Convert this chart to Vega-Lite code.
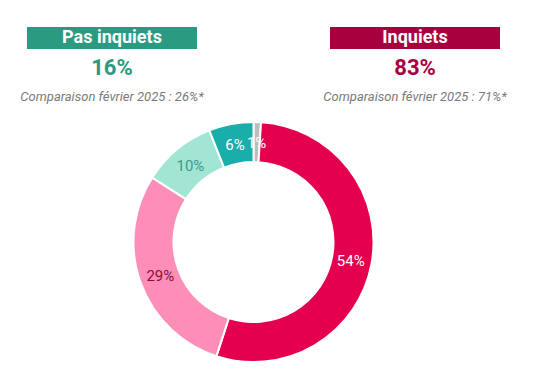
{
  "$schema": "https://vega.github.io/schema/vega-lite/v6.json",
  "padding": 0,
  "spacing": 0,
  "background": "white",
  "config": {"view": {"stroke": null}, "font": "Roboto"},
  "vconcat": [
    {
      "width": 554,
      "height": 116,
      "data": {"values": [
        {"groupe": "Pas inquiets", "pct": "16%", "comp": "Comparaison février 2025 : 26%*"},
        {"groupe": "Inquiets", "pct": "83%", "comp": "Comparaison février 2025 : 71%*"}
      ]},
      "encoding": {
        "x": {"field": "groupe", "type": "nominal", "axis": null,
              "scale": {"type": "band", "domain": ["Pas inquiets", "Inquiets"], "range": [27, 500], "paddingInner": 0.439, "paddingOuter": 0}}
      },
      "layer": [
        {
          "mark": {"type": "bar"},
          "encoding": {
            "y": {"datum": "titre", "type": "nominal", "axis": null,
                  "scale": {"type": "band", "domain": ["titre", "pct", "comp"], "range": [27, 108], "paddingInner": 0.254, "paddingOuter": 0}},
            "color": {"field": "groupe", "type": "nominal", "legend": null,
                      "scale": {"domain": ["Pas inquiets", "Inquiets"], "range": ["#2A9A80", "#A8003F"]}}
          }
        },
        {
          "mark": {"type": "text", "fontSize": 18, "fontWeight": "bold", "color": "white", "baseline": "middle"},
          "encoding": {
            "y": {"datum": "titre", "type": "nominal"},
            "text": {"field": "groupe"}
          }
        },
        {
          "mark": {"type": "text", "fontSize": 22, "fontWeight": "bold", "baseline": "middle"},
          "encoding": {
            "y": {"datum": "pct", "type": "nominal"},
            "text": {"field": "pct"},
            "color": {"field": "groupe", "type": "nominal", "legend": null}
          }
        },
        {
          "mark": {"type": "text", "fontSize": 13, "fontStyle": "italic", "color": "#7a7a7a", "baseline": "middle"},
          "encoding": {
            "y": {"datum": "comp", "type": "nominal"},
            "text": {"field": "comp"}
          }
        }
      ]
    },
    {
      "width": 507,
      "height": 252,
      "data": {"values": [
        {"categorie": "NSP", "ordre": 1, "valeur": 1, "label": "1%"},
        {"categorie": "Très inquiets", "ordre": 2, "valeur": 54, "label": "54%"},
        {"categorie": "Assez inquiets", "ordre": 3, "valeur": 29, "label": "29%"},
        {"categorie": "Peu inquiets", "ordre": 4, "valeur": 10, "label": "10%"},
        {"categorie": "Pas du tout inquiets", "ordre": 5, "valeur": 6, "label": "6%"}
      ]},
      "encoding": {
        "theta": {"field": "valeur", "type": "quantitative", "stack": true},
        "order": {"field": "ordre", "type": "quantitative"}
      },
      "layer": [
        {
          "mark": {"type": "arc", "outerRadius": 120, "innerRadius": 80, "stroke": "white", "strokeWidth": 2},
          "encoding": {
            "color": {"field": "categorie", "type": "nominal", "legend": null,
                      "scale": {"domain": ["NSP", "Très inquiets", "Assez inquiets", "Peu inquiets", "Pas du tout inquiets"],
                                "range": ["#BDBDBD", "#E4004F", "#FD8EB8", "#A2E5D5", "#1AAEAA"]}}
          }
        },
        {
          "mark": {"type": "text", "radius": 99, "fontSize": 15, "baseline": "middle"},
          "encoding": {
            "text": {"field": "label"},
            "color": {"field": "categorie", "type": "nominal", "legend": null,
                      "scale": {"domain": ["NSP", "Très inquiets", "Assez inquiets", "Peu inquiets", "Pas du tout inquiets"],
                                "range": ["#FFFFFF", "#FFFFFF", "#8C0D3E", "#3E9A86", "#FFFFFF"]}}
          }
        }
      ],
      "resolve": {"scale": {"color": "independent"}}
    }
  ],
  "resolve": {"scale": {"color": "independent"}}
}
